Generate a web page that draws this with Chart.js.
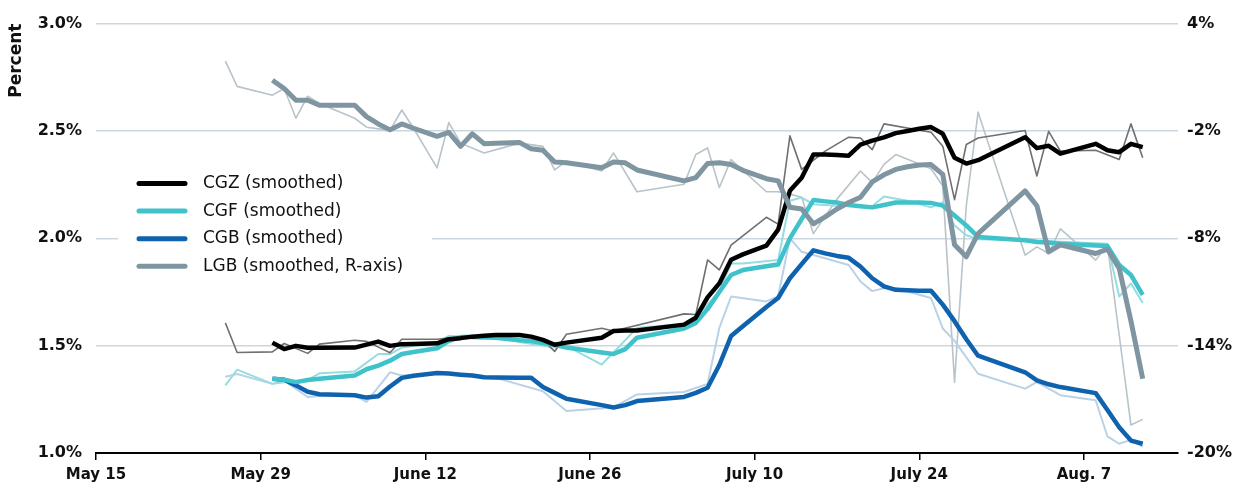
<!DOCTYPE html>
<html>
<head>
<meta charset="utf-8">
<script src="https://cdn.jsdelivr.net/npm/chart.js@4.4.1/dist/chart.umd.min.js"></script>
<style>
  body { margin: 0; background: #fff; }
</style>
</head>
<body>
<canvas id="yields" width="1238" height="491"></canvas>
<script>
/** CGZ / CGF / CGB / LGB YIELDS, MAY - AUG **/

// x values are days after May 15
var days = [
    11, 12, 15, 16, 17, 18, 19,
    22, 23, 24, 25, 26, 27, 29, 30, 31, 32, 33, 34,
    36, 37, 38, 39, 40, 43, 44, 45, 46,
    50, 51, 52, 53, 54, 55, 57, 58, 59, 60, 61, 62, 63, 64,
    65, 66, 67, 68, 69, 70, 71, 72, 73, 74, 75,
    79, 80, 81, 82, 85, 86, 87, 88, 89
];
var tickDays = [0, 14, 28, 42, 56, 70, 84];
var tickLabels = ["May 15", "May 29", "June 12", "June 26", "July 10", "July 24", "Aug. 7"];

var cgzRaw = [
    1.606, 1.468, 1.471, 1.510, null, 1.464, 1.507,
    1.525, 1.520, null, 1.467, 1.530, null, 1.530, 1.535, 1.540, 1.545, 1.548, 1.550,
    1.550, 1.545, 1.525, 1.473, 1.553, 1.581, 1.568, null, null,
    1.648, 1.645, 1.899, 1.853, 1.968, null, 2.098, 2.066, 2.477, 2.321, null, 2.406, null, 2.471,
    2.467, 2.413, 2.533, null, null, null, 2.494, 2.429, 2.180, 2.437, 2.467,
    2.502, 2.290, 2.498, 2.406, 2.410, null, 2.367, 2.533, 2.375
];
var cgzSmooth = [
    null, null, 1.514, 1.484, 1.499, 1.490, 1.490,
    1.491, 1.505, 1.519, 1.499, 1.507, 1.508, 1.511, 1.530, 1.535, 1.542, 1.546, 1.550,
    1.550, 1.542, 1.527, 1.504, 1.514, 1.537, 1.568, 1.570, 1.571,
    1.598, 1.630, 1.725, 1.790, 1.900, 1.925, 1.966, 2.040, 2.221, 2.282, 2.390, 2.390, 2.388, 2.385,
    2.436, 2.455, 2.470, 2.490, 2.500, 2.510, 2.518, 2.487, 2.375, 2.348, 2.364,
    2.471, 2.420, 2.431, 2.394, 2.440, 2.410, 2.401, 2.440, 2.425
];
var cgfRaw = [
    1.315, 1.388, 1.322, 1.330, null, 1.341, 1.371,
    1.380, null, 1.461, 1.461, 1.491, null, 1.514, 1.545, null, null, 1.540, 1.553,
    1.517, null, null, 1.491, 1.499, 1.412, 1.468, null, 1.583,
    1.600, 1.630, null, 1.753, 1.883, 1.883, null, 1.899, 2.175, 2.190, 2.159, null, 2.152, null,
    null, 2.149, 2.195, null, 2.175, null, 2.144, 2.167, 2.060, 2.014, 1.995,
    1.991, null, null, null, null, 1.975, 1.729, 1.790, 1.699
];
var cgfSmooth = [
    null, null, 1.346, 1.341, 1.330, 1.340, 1.346,
    1.361, 1.390, 1.407, 1.430, 1.461, 1.470, 1.488, 1.522, 1.540, 1.540, 1.538, 1.537,
    1.525, 1.522, 1.512, 1.504, 1.491, 1.468, 1.461, 1.484, 1.537,
    1.580, 1.606, 1.670, 1.750, 1.829, 1.852, 1.870, 1.878, 2.000, 2.090, 2.178, 2.172, 2.167, 2.155,
    2.149, 2.144, 2.155, 2.167, 2.167, 2.167, 2.165, 2.152, 2.106, 2.060, 2.006,
    1.991, 1.983, 1.980, 1.975, 1.966, 1.964, 1.876, 1.829, 1.736
];
var cgbRaw = [
    1.355, 1.368, 1.322, 1.337, null, 1.261, 1.265,
    1.269, 1.238, null, 1.376, 1.361, null, 1.371, null, null, 1.361, null, 1.350,
    null, null, 1.288, null, 1.196, null, 1.212, null, 1.273,
    1.284, null, 1.322, 1.583, 1.729, null, 1.706, 1.729, 2.000, 1.937, 1.922, null, null, 1.876,
    1.799, 1.754, 1.767, 1.767, null, null, 1.722, 1.580, 1.522, null, 1.369,
    1.300, 1.330, null, 1.269, 1.246, 1.077, 1.043, 1.061, 1.030
];
var cgbSmooth = [
    null, null, 1.346, 1.341, 1.315, 1.285, 1.274,
    1.269, 1.258, 1.264, 1.310, 1.350, 1.360, 1.373, 1.370, 1.365, 1.361, 1.353, 1.352,
    1.350, 1.350, 1.307, 1.280, 1.253, 1.223, 1.212, 1.223, 1.242,
    1.261, 1.280, 1.304, 1.410, 1.545, 1.590, 1.680, 1.722, 1.814, 1.880, 1.944, 1.930, 1.918, 1.909,
    1.868, 1.814, 1.776, 1.760, 1.758, 1.756, 1.756, 1.691, 1.614, 1.530, 1.453,
    1.376, 1.338, 1.320, 1.307, 1.279, 1.200, 1.120, 1.058, 1.043
];
// LGB is read on the right axis
var lgbRaw = [
    1.90, 0.49, 0.00, 0.37, -1.29, -0.06, -0.46,
    -1.29, -1.79, null, -1.97, -0.83, -1.85, -4.06, -1.53, -2.68, null, -3.23, null,
    -2.68, null, -2.86, -4.18, -3.69, -4.24, -3.23, null, -5.40,
    -4.98, -3.32, -2.95, -5.16, -3.60, null, -5.40, -5.40, -5.53, -5.71, -7.74, null, -5.81, null,
    -4.24, -4.89, -3.87, -3.32, null, null, -4.11, -5.07, -16.04, -6.18, -0.95,
    -8.94, -8.48, -8.85, -7.47, -9.22, -8.36, null, -18.44, -18.12
];
var lgbSmooth = [
    null, null, 0.83, 0.37, -0.28, -0.28, -0.56,
    -0.56, -1.20, -1.61, -1.94, -1.61, -1.85, -2.30, -2.08, -2.86, -2.16, -2.71, -2.69,
    -2.64, -3.00, -3.08, -3.74, -3.78, -4.06, -3.73, -3.78, -4.18,
    -4.79, -4.61, -3.82, -3.78, -3.88, -4.20, -4.67, -4.79, -6.27, -6.36, -7.19, -6.80, -6.36, -6.00,
    -5.71, -4.85, -4.45, -4.15, -4.00, -3.90, -3.88, -4.43, -8.36, -9.03, -7.74,
    -5.35, -6.18, -8.76, -8.36, -8.85, -8.61, -9.68, -12.63, -15.85
];

function pts(vals) {
    return days.map(function (d, i) { return { x: d, y: vals[i] }; });
}

function line(label, vals, color, width, axis) {
    return {
        label: label,
        data: pts(vals),
        borderColor: color,
        backgroundColor: color,
        borderWidth: width,
        borderJoinStyle: 'round',
        pointRadius: 0,
        tension: 0,
        spanGaps: true,
        yAxisID: axis || 'y'
    };
}

// legend sits inside the plot on a white box
var insideLegend = {
    id: 'insideLegend',
    beforeDatasetsDraw: function (chart) {
        var ctx = chart.ctx;
        var items = chart.data.datasets.filter(function (ds) { return ds.inLegend; });
        items.sort(function (a, b) { return a.inLegend - b.inLegend; });
        ctx.save();
        ctx.fillStyle = '#fff';
        ctx.fillRect(118, 160, 314, 125);
        ctx.font = '17px "DejaVu Sans"';
        ctx.textBaseline = 'middle';
        items.forEach(function (ds, i) {
            var y = 183.5 + i * 27.6;
            ctx.strokeStyle = ds.borderColor;
            ctx.lineWidth = 5;
            ctx.lineCap = 'round';
            ctx.beginPath();
            ctx.moveTo(139, y);
            ctx.lineTo(185, y);
            ctx.stroke();
            ctx.fillStyle = '#111';
            ctx.fillText(ds.label, 203, y);
        });
        ctx.restore();
    }
};

var lgb = line('LGB (smoothed, R-axis)', lgbSmooth, '#7f96a2', 5, 'y2'); lgb.inLegend = 4;
var cgz = line('CGZ (smoothed)', cgzSmooth, '#000000', 4.5); cgz.inLegend = 1;
var cgf = line('CGF (smoothed)', cgfSmooth, '#3fc2ca', 4.5); cgf.inLegend = 2;
var cgb = line('CGB (smoothed)', cgbSmooth, '#0f62ae', 4.5); cgb.inLegend = 3;

var yields = new Chart(document.getElementById("yields"), {
    type: 'line',
    data: {
        datasets: [
            lgb, cgz, cgf, cgb,
            line('CGZ', cgzRaw, '#707070', 1.6),
            line('CGF', cgfRaw, '#96dde1', 2),
            line('CGB', cgbRaw, '#bad1e6', 2),
            line('LGB', lgbRaw, '#b8c3ca', 1.6, 'y2')
        ]
    },
    options: {
        responsive: false,
        animation: false,
        layout: { padding: { top: 19, left: 0, right: 0, bottom: 0 } },
        plugins: {
            legend: { display: false },
            tooltip: { enabled: false }
        },
        scales: {
            x: {
                type: 'linear',
                min: 0,
                max: 92,
                afterBuildTicks: function (scale) {
                    scale.ticks = tickDays.map(function (d) { return { value: d }; });
                },
                afterFit: function (scale) { scale.height = 38; },
                ticks: {
                    padding: 6,
                    maxRotation: 0,
                    color: '#111',
                    font: { family: 'DejaVu Sans', size: 15, weight: 'bold' },
                    callback: function (v) { return tickLabels[tickDays.indexOf(v)]; }
                },
                grid: { drawOnChartArea: false, color: '#000', lineWidth: 1.5, tickLength: 7 },
                border: { color: '#000', width: 2 }
            },
            y: {
                position: 'left',
                min: 1.0,
                max: 3.0,
                afterFit: function (scale) { scale.width = 96; },
                ticks: {
                    stepSize: 0.5,
                    padding: 14,
                    color: '#111',
                    font: { family: 'DejaVu Sans', size: 16, weight: 'bold' },
                    callback: function (v) { return v.toFixed(1) + '%'; }
                },
                grid: { color: '#cbd7e0', lineWidth: 1.5, drawTicks: false },
                border: { display: false },
                title: {
                    display: true,
                    text: 'Percent',
                    align: 'end',
                    color: '#111',
                    padding: { top: 6, bottom: 0 },
                    font: { family: 'DejaVu Sans', size: 17, weight: 'bold' }
                }
            },
            y2: {
                position: 'right',
                min: -20,
                max: 4,
                afterFit: function (scale) { scale.width = 60; },
                ticks: {
                    stepSize: 6,
                    padding: 9,
                    color: '#111',
                    font: { family: 'DejaVu Sans', size: 16, weight: 'bold' },
                    callback: function (v) { return v + '%'; }
                },
                grid: { drawOnChartArea: false, drawTicks: false },
                border: { display: false }
            }
        }
    },
    plugins: [insideLegend]
});
</script>
</body>
</html>
